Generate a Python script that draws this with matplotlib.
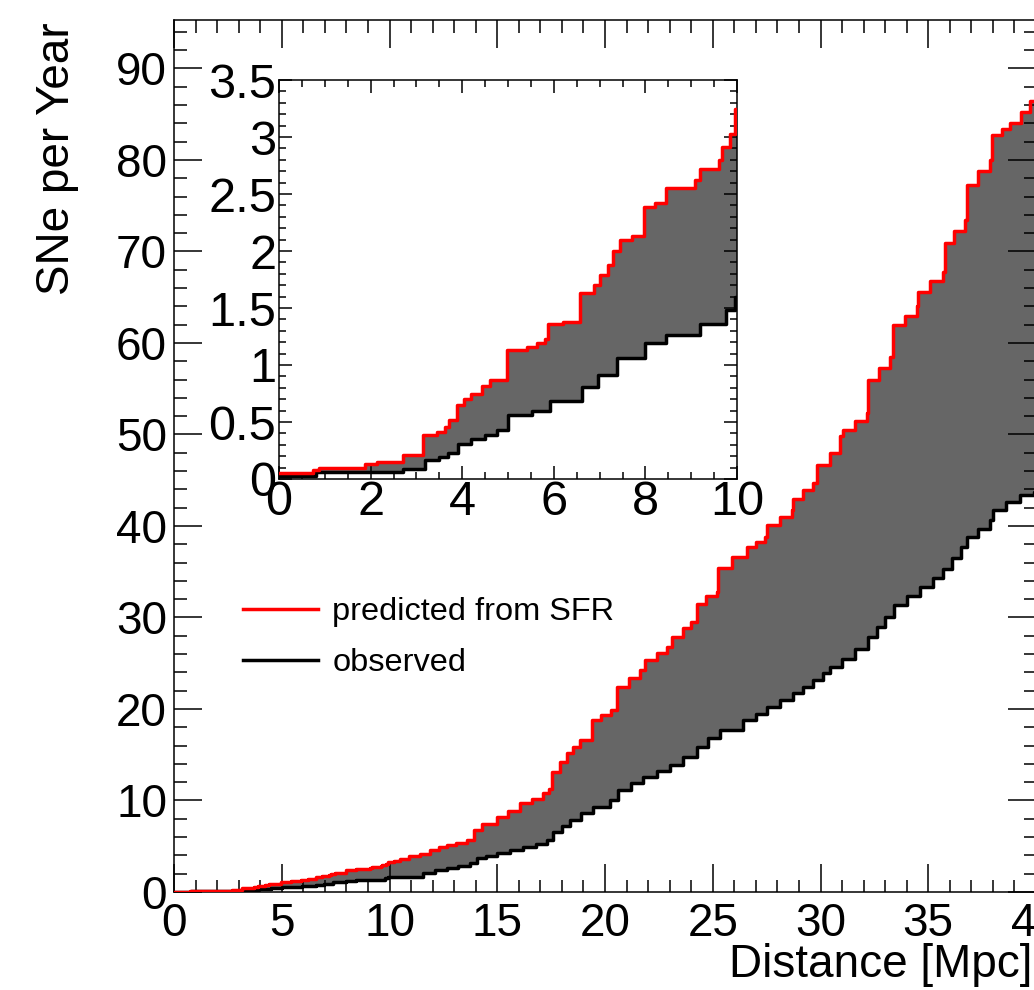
import numpy as np
import matplotlib
matplotlib.use("Agg")
import matplotlib.pyplot as plt
from matplotlib.ticker import MultipleLocator

plt.rcParams["font.family"] = ["Liberation Sans", "DejaVu Sans"]

# cumulative SNe per year vs distance (step starts)
pred_x = [0, 0.75, 0.87, 1.88, 2.13, 2.71, 3.15, 3.44, 3.62, 3.72, 3.88, 4.05, 4.2,
          4.43, 4.6, 4.97, 5.41, 5.63, 5.81, 5.88, 6.2, 6.57, 6.87, 7.01, 7.18, 7.3,
          7.45, 7.7, 7.96, 8.2, 8.46, 9.08, 9.19, 9.6, 9.67, 9.85, 9.95,
          10.2, 10.5, 10.9, 11.4, 11.9, 12.3, 12.65, 13.1, 13.58, 13.9, 14.3, 14.97,
          15.5, 16.05, 16.6, 17.14, 17.4, 17.53, 17.9, 18.22, 18.5, 18.84, 19.38,
          19.8, 20.3, 20.54, 21.1, 21.62, 21.85, 22.4, 22.86, 23.09, 23.6, 24.0,
          24.25, 24.7, 25.18, 25.26, 25.9, 26.58, 27.0, 27.43, 27.5, 28.1, 28.66,
          28.74, 29.2, 29.67, 29.82, 30.44, 30.9, 31.06, 31.6, 32.15, 32.2, 32.7,
          33.22, 33.38, 33.9, 34.46, 34.54, 35.1, 35.7, 35.78, 36.2, 36.7, 36.78,
          37.3, 37.87, 37.94, 38.4, 38.8, 39.3, 39.72]
pred_y = [0.05, 0.08, 0.10, 0.13, 0.15, 0.21, 0.39, 0.41, 0.46, 0.52, 0.65, 0.70, 0.75,
          0.82, 0.87, 1.13, 1.16, 1.19, 1.23, 1.36, 1.38, 1.63, 1.70, 1.79, 1.88, 2.00,
          2.10, 2.13, 2.39, 2.42, 2.55, 2.62, 2.72, 2.80, 2.91, 3.03, 3.25,
          3.40, 3.60, 3.90, 4.20, 4.60, 4.90, 5.15, 5.40, 5.70, 6.80, 7.40, 8.20,
          8.90, 9.70, 10.2, 10.8, 11.3, 13.1, 14.2, 15.2, 15.9, 16.6, 18.8,
          19.3, 19.9, 22.4, 23.4, 24.3, 25.4, 26.1, 26.8, 27.9, 28.8, 29.5,
          31.5, 32.3, 32.8, 35.4, 36.6, 37.7, 38.3, 38.8, 40.1, 41.0, 41.8,
          43.0, 43.9, 44.7, 46.7, 48.0, 49.8, 50.5, 51.5, 52.3, 56.0, 57.3,
          58.5, 62.0, 63.0, 64.0, 65.6, 66.8, 67.8, 70.9, 72.2, 73.4, 77.3,
          78.8, 80.0, 82.7, 83.4, 84.0, 85.3, 86.4]

obs_x = [0, 0.8, 2.7, 3.18, 3.5, 3.7, 3.9, 4.2, 4.5, 4.75, 5.0, 5.52, 5.92, 6.61,
         6.97, 7.37, 7.99, 8.46, 9.19, 9.77, 9.95,
         11.1, 11.57, 12.1, 12.65, 13.2, 13.73, 14.04, 14.5, 14.97, 15.6, 16.2,
         16.8, 17.3, 17.6, 18.0, 18.38, 18.9, 19.46, 20.23, 20.62, 21.2, 21.78,
         22.4, 23.0, 23.6, 24.25, 24.8, 25.34, 26.42, 27.0, 27.5, 28.1, 28.74,
         29.2, 29.67, 30.1, 30.44, 31.0, 31.6, 32.2, 32.6, 33.0, 33.4, 34.0,
         34.6, 35.2, 35.7, 36.1, 36.5, 36.78, 37.3, 37.87, 38.0, 38.6, 39.25, 39.9]
obs_y = [0.03, 0.065, 0.09, 0.17, 0.19, 0.23, 0.31, 0.35, 0.39, 0.43, 0.56, 0.60, 0.68,
         0.81, 0.91, 1.06, 1.19, 1.26, 1.36, 1.48, 1.60,
         1.67, 2.11, 2.35, 2.59, 2.85, 3.13, 3.68, 3.95, 4.23, 4.60, 4.95,
         5.30, 5.68, 6.59, 7.20, 7.87, 8.60, 9.33, 10.05, 11.2, 11.9, 12.6,
         13.2, 13.88, 14.8, 15.88, 16.8, 17.7, 18.8, 19.5, 20.25, 21.0, 21.72,
         22.4, 23.17, 23.9, 24.62, 25.5, 26.6, 27.9, 29.0, 30.0, 31.4, 32.4,
         33.3, 34.3, 35.3, 36.5, 37.7, 38.8, 39.7, 40.7, 41.75, 42.6, 43.4, 43.7]

x_max = 40.0
W, H = 1034, 990
RED = "#ff0000"
FILL = "#666666"


def step_curve(xs, ys):
    x = np.append(np.asarray(xs, float), x_max)
    y = np.append(np.asarray(ys, float), ys[-1])
    return x, y


px, py = step_curve(pred_x, pred_y)
ox, oy = step_curve(obs_x, obs_y)
grid = np.union1d(px, ox)
p_on_grid = py[np.searchsorted(px, grid, side="right") - 1]
o_on_grid = oy[np.searchsorted(ox, grid, side="right") - 1]


def draw(ax, lw):
    ax.fill_between(grid, o_on_grid, p_on_grid, step="post", color=FILL, lw=0, zorder=1)
    ax.step(ox, oy, where="post", color="black", lw=lw, zorder=2)
    ax.step(px, py, where="post", color=RED, lw=lw, zorder=3)


def style(ax, maj_len, min_len, size, pad_x, pad_y):
    ax.tick_params(which="both", direction="in", top=True, right=True,
                   width=1.1, labelsize=size)
    ax.tick_params(which="major", length=maj_len)
    ax.tick_params(which="minor", length=min_len)
    ax.tick_params(axis="x", pad=pad_x)
    ax.tick_params(axis="y", pad=pad_y)
    for s in ax.spines.values():
        s.set_linewidth(1.1)
    ax.xaxis.set_major_formatter(plt.FuncFormatter(lambda v, _: f"{v:g}"))
    ax.yaxis.set_major_formatter(plt.FuncFormatter(lambda v, _: f"{v:g}"))


fig = plt.figure(figsize=(W / 100, H / 100), dpi=100)

# main pad
ax = fig.add_axes([174 / W, 1 - 892 / H, (1036 - 174) / W, (892 - 20) / H])
draw(ax, 2.5)
ax.set_xlim(0, x_max)
ax.set_ylim(0, 95.3)
ax.xaxis.set_major_locator(MultipleLocator(5))
ax.xaxis.set_minor_locator(MultipleLocator(1))
ax.yaxis.set_major_locator(MultipleLocator(10))
ax.yaxis.set_minor_locator(MultipleLocator(2))
style(ax, 20, 9, 33, 7.5, 5)

l1, = ax.plot([], [], color=RED, lw=2.5, label="predicted from SFR")
l2, = ax.plot([], [], color="black", lw=2.5, label="observed")
ax.legend(handles=[l1, l2], loc="upper left", bbox_to_anchor=(243 / W, 1 - 597 / H),
          bbox_transform=fig.transFigure, frameon=False, fontsize=23.4,
          handlelength=2.3, handletextpad=0.45, labelspacing=0.66,
          borderpad=0, borderaxespad=0)

fig.text(1032 / W, 1 - 977 / H, "Distance [Mpc]", ha="right", va="baseline", fontsize=33)
fig.text(57 / W, 1 - 22 / H, "SNe per Year", ha="center", va="top",
         rotation=90, fontsize=33)

# inset: first 10 Mpc
ins = fig.add_axes([279 / W, 1 - 479 / H, (737 - 279) / W, (479 - 80) / H])
ins.set_facecolor("white")
draw(ins, 2.5)
ins.set_xlim(0, 10)
ins.set_ylim(0, 3.5)
ins.xaxis.set_major_locator(MultipleLocator(2))
ins.xaxis.set_minor_locator(MultipleLocator(0.5))
ins.yaxis.set_major_locator(MultipleLocator(0.5))
ins.yaxis.set_minor_locator(MultipleLocator(0.1))
style(ins, 9.5, 4.7, 35, 1, 2)

fig.savefig("out.png", dpi=100)
